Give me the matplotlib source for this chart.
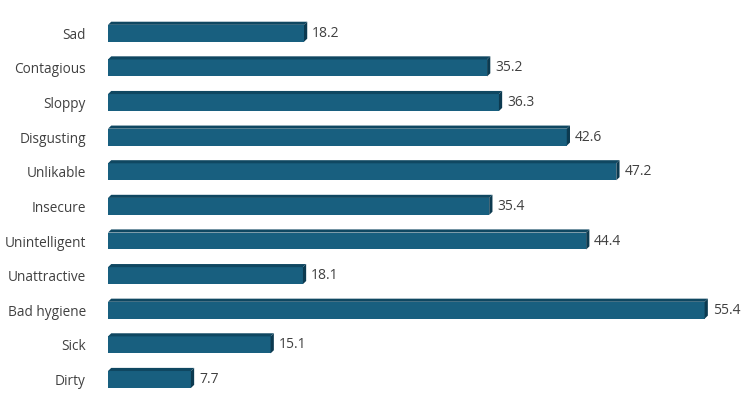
import matplotlib.pyplot as plt
from matplotlib.patches import Polygon

categories = ['Sad', 'Contagious', 'Sloppy', 'Disgusting', 'Unlikable', 'Insecure',
              'Unintelligent', 'Unattractive', 'Bad hygiene', 'Sick', 'Dirty']
values = [18.2, 35.2, 36.3, 42.6, 47.2, 35.4, 44.4, 18.1, 55.4, 15.1, 7.7]

front = '#185f7f'
top = '#0f4761'
side = '#0c3a50'

plt.rcParams['font.family'] = ['Open Sans', 'DejaVu Sans']

fig = plt.figure(figsize=(7.5, 4), dpi=100)
ax = fig.add_axes([0.144, 0.008, 0.84, 0.952])

h = 0.49
dx = 0.3   # depth offset in x (data units)
dy = 0.09  # depth offset in y (data units)

for i, v in enumerate(values):
    y0 = i + h / 2   # bottom edge (inverted axis: larger y is lower)
    y1 = i - h / 2   # top edge
    ax.add_patch(Polygon([(0, y0), (v, y0), (v, y1), (0, y1)], closed=True,
                         facecolor=front, edgecolor='none'))
    # top face
    ax.add_patch(Polygon([(0, y1), (v, y1), (v + dx, y1 - dy), (dx, y1 - dy)], closed=True,
                         facecolor=top, edgecolor='none'))
    # right side face
    ax.add_patch(Polygon([(v, y0), (v + dx, y0 - dy), (v + dx, y1 - dy), (v, y1)], closed=True,
                         facecolor=side, edgecolor='none'))
    ax.text(v + dx + 0.45, i, f'{v}', va='center', ha='left', fontsize=10, color='#404040')

ax.set_xlim(0, 58.5)
ax.set_ylim(len(categories) - 0.5, -0.5)
ax.set_yticks(range(len(categories)))
ax.set_yticklabels(categories, fontsize=9.8, color='#404040')
ax.tick_params(axis='y', length=0, pad=16)
ax.set_xticks([])
for s in ax.spines.values():
    s.set_visible(False)

fig.savefig('out.png', dpi=100)
